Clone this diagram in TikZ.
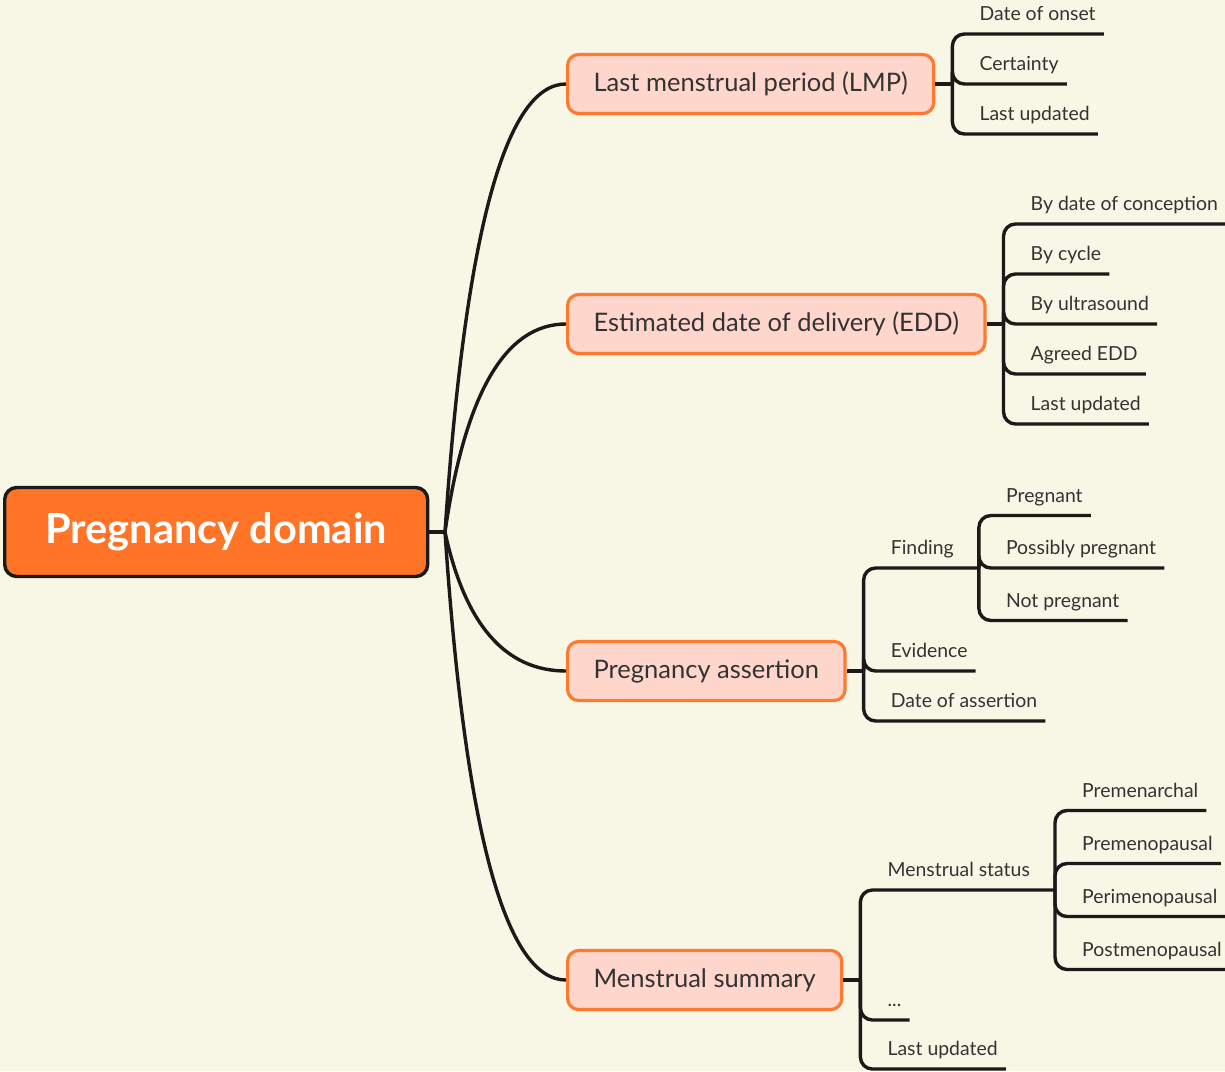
\documentclass[tikz,border=0pt]{standalone}
\usepackage{fontspec}
\setmainfont{Lato}
\usetikzlibrary{calc,positioning}
\definecolor{bgcream}{RGB}{248,247,229}
\definecolor{rootorange}{RGB}{255,116,38}
\definecolor{topicpink}{RGB}{255,214,204}
\definecolor{topicedge}{RGB}{255,122,48}
\definecolor{inkgray}{RGB}{51,51,51}
\definecolor{linkblack}{RGB}{26,26,26}

\begin{document}
\begin{tikzpicture}[x=1pt, y=-1pt,
    rootbox/.style={draw=linkblack, fill=rootorange, line width=3.4pt, rounded corners=12pt,
      minimum width=423pt, minimum height=89pt, text=white, font=\fontsize{41.5}{48}\selectfont\bfseries},
    topic/.style={draw=topicedge, fill=topicpink, line width=3.2pt, rounded corners=11pt,
      anchor=west, minimum height=59pt, inner xsep=26pt, text=inkgray, font=\fontsize{25.5}{29}\selectfont},
    leaf/.style={anchor=south west, inner xsep=8pt, inner ysep=8pt, text depth=5pt,
      text=inkgray, font=\fontsize{19.4}{22}\selectfont},
    link/.style={draw=linkblack, line width=3.4pt},
    bracket/.style={link, rounded corners=12pt},
]
% canvas
\fill[bgcream] (0,0) rectangle (1225,1071);
\useasboundingbox (0,0) rectangle (1225,1071);

% central topic and the four main topics
\node[rootbox, anchor=west] (root) at (3,532) {Pregnancy domain};
\coordinate (hub) at (445,532);
\node[topic] (lmp) at (566,84) {Last menstrual period (LMP)};
\node[topic] (edd) at (566,324) {Estimated date of delivery (EDD)};
\node[topic] (pa) at (566,671) {Pregnancy assertion};
\node[topic] (ms) at (566,980) {Menstrual summary};

\draw[link] (root.east) -- (hub);
\foreach \t in {lmp,edd,pa,ms}{
  \coordinate (q) at ($(hub|-\t.west)+(30,0)$);
  \draw[link] (hub) .. controls ($(hub)!2/3!(q)$) and ($(\t.west)!2/3!(q)$) .. (\t.west);
}

% LMP
\coordinate (lmpbar) at ($(lmp.east)+(17,0)$);
\draw[link] (lmp.east) -- (lmpbar);
\foreach \lbl [count=\i] in {Date of onset, Certainty, Last updated}{
  \node[leaf] (lmp\i) at ($(lmpbar)+(19,{50*(\i-2)})$) {\lbl};
  \draw[bracket] (lmpbar) |- (lmp\i.south east);
}

% EDD
\coordinate (eddbar) at ($(edd.east)+(17,0)$);
\draw[link] (edd.east) -- (eddbar);
\foreach \lbl [count=\i] in {By date of conception, By cycle, By ultrasound, Agreed EDD, Last updated}{
  \node[leaf] (edd\i) at ($(eddbar)+(19,{50*(\i-3)})$) {\lbl};
  \draw[bracket] (eddbar) |- (edd\i.south east);
}

% Pregnancy assertion
\coordinate (pabar) at ($(pa.east)+(17,0)$);
\draw[link] (pa.east) -- (pabar);
\node[leaf] (find) at ($(pabar)+(19,-103)$) {Finding};
\node[leaf] (evid) at ($(pabar)+(19,0)$) {Evidence};
\node[leaf] (pdate) at ($(pabar)+(19,50)$) {Date of assertion};
\coordinate (findbar) at ($(find.south east)+(17,0)$);
\draw[bracket] (pabar) |- (findbar);
\draw[bracket] (pabar) |- (evid.south east);
\draw[bracket] (pabar) |- (pdate.south east);
\foreach \lbl [count=\i] in {Pregnant, Possibly pregnant, Not pregnant}{
  \node[leaf] (find\i) at ($(findbar)+(19,{52.5*(\i-2)})$) {\lbl};
  \draw[bracket] (findbar) |- (find\i.south east);
}

% Menstrual summary
\coordinate (msbar) at ($(ms.east)+(17,0)$);
\draw[link] (ms.east) -- (msbar);
\node[leaf] (mstat) at ($(msbar)+(19,-90)$) {Menstrual status};
\node[leaf] (more) at ($(msbar)+(19,40)$) {...};
\node[leaf] (msupd) at ($(msbar)+(19,89)$) {Last updated};
\coordinate (mstatbar) at ($(mstat.south east)+(17,0)$);
\draw[bracket] (msbar) |- (mstatbar);
\draw[bracket] (msbar) |- (more.south east);
\draw[bracket] (msbar) |- (msupd.south east);
\foreach \lbl [count=\i] in {Premenarchal, Premenopausal, Perimenopausal, Postmenopausal}{
  \node[leaf] (mstat\i) at ($(mstatbar)+(19,{53*(\i-2.5)})$) {\lbl};
  \draw[bracket] (mstatbar) |- (mstat\i.south east);
}
\end{tikzpicture}
\end{document}
